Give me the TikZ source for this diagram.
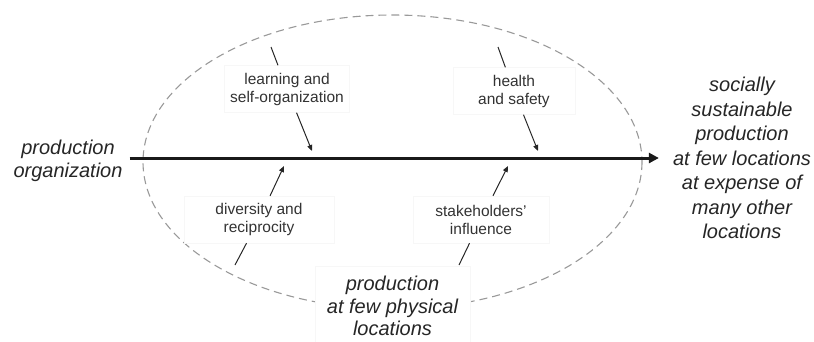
\documentclass[tikz,border=0pt]{standalone}
\usepackage{fontspec}
\setmainfont{Liberation Sans}
\usetikzlibrary{arrows.meta}

\tikzset{
  bigtext/.style={font=\fontsize{20}{22.5}\selectfont\itshape, align=center, text=black!85, inner sep=0pt},
  factor/.style={font=\fontsize{15.5}{18}\selectfont, align=center, text=black!80,
    fill=white, draw=black!3, minimum height=47pt},
  oval/.style={draw=black!40, line width=1.1pt, dash pattern=on 8pt off 5pt},
  influence/.style={draw=black!85, line width=1pt},
  mainarrow/.style={line width=3pt, black!90, -{Triangle[length=10pt,width=10pt]}}
}

\begin{document}
\begin{tikzpicture}[x=1pt,y=-1pt]
  \useasboundingbox (0,0) rectangle (814,341);

  % dashed oval around the process
  \draw[oval] (392.5,162) ellipse [x radius=249.5, y radius=147];

  % free ends of the influence lines
  \coordinate (lrnTop) at (271,47);
  \coordinate (lrnTip) at (312,151);
  \coordinate (hsTop) at (498,47);
  \coordinate (hsTip) at (538,151);
  \coordinate (divLow) at (235,265);
  \coordinate (divTip) at (284,166);
  \coordinate (stkLow) at (459,265);
  \coordinate (stkTip) at (508,166);

  \node[bigtext] (org) at (68,161) {production\\organization};
  \node[bigtext, font=\fontsize{20}{24.5}\selectfont\itshape] (goal) at (742,158)
    {socially\\sustainable\\production\\at few locations\\at expense of\\many other\\locations};
  \node[bigtext, fill=white, draw=black!3, minimum width=155pt, minimum height=80pt]
    (place) at (392.5,306) {production\\at few physical\\locations};

  \node[factor, minimum width=125pt] (lrn) at (287,89) {learning and\\self-organization};
  \node[factor, minimum width=122pt] (hs) at (514,91) {health\\and safety};
  \node[factor, minimum width=150pt] (div) at (259,219.5) {diversity and\\reciprocity};
  \node[factor, minimum width=136pt] (stk) at (481,219.5) {stakeholders'\\influence};

  % main process arrow
  \draw[mainarrow, shorten <=7pt, shorten >=14pt] (org.east |- goal.center) -- (goal.west);

  % influences on the process
  \draw[influence] (lrnTop) -- (lrn);
  \draw[influence, -{Triangle[length=6pt,width=5pt]}] (lrn) -- (lrnTip);
  \draw[influence] (hsTop) -- (hs);
  \draw[influence, -{Triangle[length=6pt,width=5pt]}] (hs) -- (hsTip);
  \draw[influence] (divLow) -- (div);
  \draw[influence, -{Triangle[length=6pt,width=5pt]}] (div) -- (divTip);
  \draw[influence] (stkLow) -- (stk);
  \draw[influence, -{Triangle[length=6pt,width=5pt]}] (stk) -- (stkTip);
\end{tikzpicture}
\end{document}
